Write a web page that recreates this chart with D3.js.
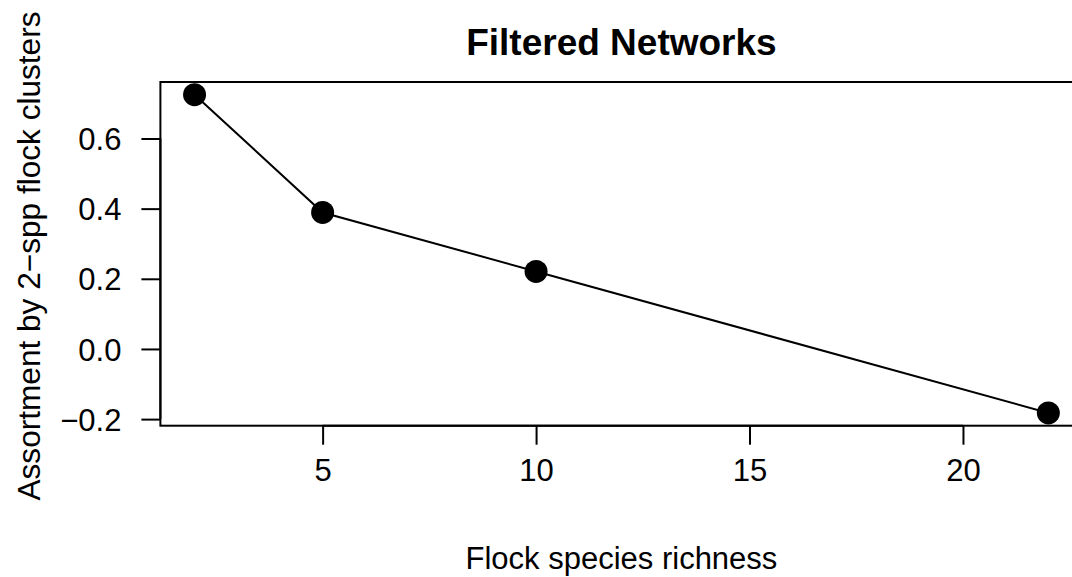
<!DOCTYPE html>
<html>
<head>
<meta charset="utf-8">
<script src="https://cdn.jsdelivr.net/npm/d3@7"></script>
<style>
  html, body { margin: 0; padding: 0; background: #fff; }
  svg { display: block; }
  text { font-family: "Liberation Sans", Arial, Helvetica, sans-serif; fill: #000; }
</style>
</head>
<body>
<svg id="chart" width="1072" height="577"></svg>
<script>
const richness = [2, 5, 10, 22];
const assortment = [0.7247, 0.389, 0.221, -0.1825];
const xTicks = [5, 10, 15, 20];
const yTicks = [-0.2, 0.0, 0.2, 0.4, 0.6];
const titleText = "Filtered Networks";
const xLabel = "Flock species richness";
const yLabel = "Assortment by 2\u2212spp flock clusters";

(function () {
const W = 1072, H = 577;
const mLeft = 160.4, mRight = 1082.5, mTop = 82, mBottom = 425.7;
const fs = 31;

function padExtent(arr) {
  const [a, b] = d3.extent(arr);
  const r = b - a;
  return [a - 0.04 * r, b + 0.04 * r];
}

const x = d3.scaleLinear().domain(padExtent(richness)).range([mLeft, mRight]);
const y = d3.scaleLinear().domain(padExtent(assortment)).range([mBottom, mTop]);

const svg = d3.select("#chart");
svg.append("rect").attr("width", W).attr("height", H).attr("fill", "#fff");

// box
svg.append("rect")
  .attr("x", mLeft).attr("y", mTop)
  .attr("width", mRight - mLeft).attr("height", mBottom - mTop)
  .attr("fill", "none").attr("stroke", "#000").attr("stroke-width", 2);

// x axis
const xAxis = d3.axisBottom(x).tickValues(xTicks).tickSize(19).tickPadding(14)
  .tickFormat(d3.format("d"));
const gx = svg.append("g").attr("transform", `translate(0,${mBottom})`).call(xAxis);
gx.select(".domain").attr("d", `M${x(xTicks[0])},0H${x(xTicks[xTicks.length-1])}`)
  .attr("stroke", "#000").attr("stroke-width", 2);
gx.selectAll(".tick line").attr("stroke", "#000").attr("stroke-width", 2);
gx.selectAll(".tick text").attr("font-size", fs).attr("font-family", "Liberation Sans, Arial, sans-serif")
  .attr("fill", "#000");

// y axis
const yAxis = d3.axisLeft(y).tickValues(yTicks).tickSize(19).tickPadding(20)
  .tickFormat(d => d3.format(".1f")(d).replace("-", "\u2212").replace("\u22120.0", "0.0"));
const gy = svg.append("g").attr("transform", `translate(${mLeft},0)`).call(yAxis);
gy.select(".domain").attr("d", `M0,${y(yTicks[0])}V${y(yTicks[yTicks.length-1])}`)
  .attr("stroke", "#000").attr("stroke-width", 2);
gy.selectAll(".tick line").attr("stroke", "#000").attr("stroke-width", 2);
gy.selectAll(".tick text").attr("font-size", fs).attr("font-family", "Liberation Sans, Arial, sans-serif")
  .attr("fill", "#000").attr("dy", "0.36em");

// line
const pts = richness.map((r, i) => [r, assortment[i]]);
svg.append("path")
  .datum(pts)
  .attr("d", d3.line().x(d => x(d[0])).y(d => y(d[1])))
  .attr("fill", "none").attr("stroke", "#000").attr("stroke-width", 2);

svg.selectAll("circle.pt").data(pts).enter().append("circle")
  .attr("class", "pt")
  .attr("cx", d => x(d[0])).attr("cy", d => y(d[1]))
  .attr("r", 11.5).attr("fill", "#000");

// title
svg.append("text").attr("x", (mLeft + mRight) / 2).attr("y", 55)
  .attr("text-anchor", "middle").attr("font-size", 37).attr("font-weight", "bold")
  .text(titleText);

// x label
svg.append("text").attr("x", (mLeft + mRight) / 2).attr("y", 569)
  .attr("text-anchor", "middle").attr("font-size", fs)
  .text(xLabel);

// y label
svg.append("text")
  .attr("transform", `translate(40,256) rotate(-90)`)
  .attr("text-anchor", "middle").attr("font-size", 31.6)
  .text(yLabel);
})();
</script>
</body>
</html>
